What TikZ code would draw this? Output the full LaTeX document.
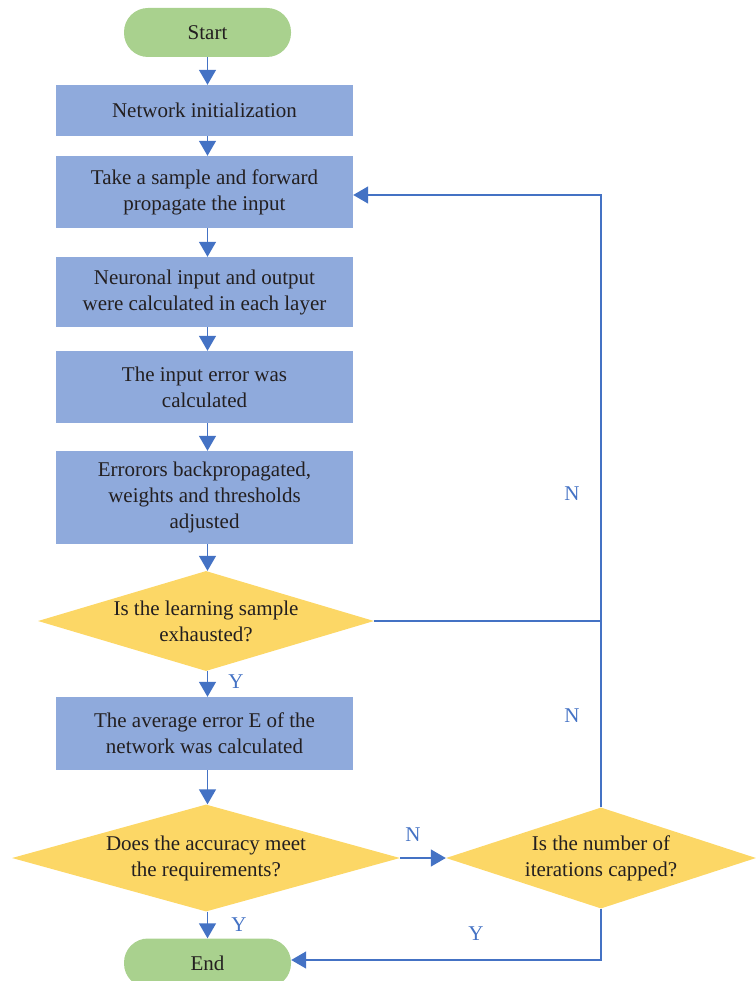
\documentclass[tikz,border=0pt]{standalone}
\usepackage{fontspec}
\setmainfont{Liberation Serif}
\usetikzlibrary{arrows.meta,shapes.geometric}
\definecolor{boxblue}{HTML}{8FAADC}
\definecolor{termgreen}{HTML}{A9D18E}
\definecolor{decyellow}{HTML}{FCD766}
\definecolor{flowline}{HTML}{4472C4}
\definecolor{txt}{HTML}{231F20}
\begin{document}
\begin{tikzpicture}[x=1pt,y=-1pt,
  every node/.style={font=\fontsize{21}{26}\selectfont, text=txt},
  process/.style={rectangle, fill=boxblue, minimum width=297pt, inner sep=0pt,
    align=center},
  terminal/.style={rectangle, rounded corners=24pt, fill=termgreen,
    minimum width=167pt, minimum height=49pt, inner sep=0pt},
  decision/.style={diamond, fill=decyellow, inner sep=0pt},
  decisiontext/.style={align=center, inner sep=0pt},
  flow/.style={draw=flowline, line width=1.4pt,
    -{Triangle[width=17pt,length=15pt]}},
  joint/.style={draw=flowline, line width=1.4pt},
  answer/.style={text=flowline, inner sep=0pt}
]
\useasboundingbox (0,0) rectangle (755,981);

% terminals and process boxes
\node[terminal] (start) at (207.5,32.5) {Start};
\node[process, minimum height=51pt] (init) at (204.5,110.5) {Network initialization};
\node[process, minimum height=72pt] (sample) at (204.5,192) {Take a sample and forward\\propagate the input};
\node[process, minimum height=70pt] (layers) at (204.5,292) {Neuronal input and output\\were calculated in each layer};
\node[process, minimum height=72pt] (inerr) at (204.5,387) {The input error was\\calculated};
\node[process, minimum height=93pt] (backprop) at (204.5,497.5) {Errorors backpropagated,\\weights and thresholds\\adjusted};

% first decision
\node[decision, minimum width=336pt, minimum height=100pt] (exhaust) at (206,621) {};
\node[decisiontext] (exhausttxt) at (exhaust.center) {Is the learning sample\\exhausted?};

\node[process, minimum height=73pt] (avgerr) at (204.5,733.5) {The average error E of the\\network was calculated};

% accuracy and iteration decisions
\node[decision, minimum width=388pt, minimum height=107pt] (accur) at (206,858) {};
\node[decisiontext] (accurtxt) at (accur.center) {Does the accuracy meet\\the requirements?};
\node[decision, minimum width=310pt, minimum height=101pt] (iter) at (601,858) {};
\node[decisiontext] (itertxt) at (iter.center) {Is the number of\\iterations capped?};

\node[terminal] (end) at (207.5,963) {End};

% main downward flow, all along the column of the terminals
\draw[flow] (start.south) -- (start.south |- init.north);
\draw[flow] (init.south -| start) -- (sample.north -| start);
\draw[flow] (sample.south -| start) -- (layers.north -| start);
\draw[flow] (layers.south -| start) -- (inerr.north -| start);
\draw[flow] (inerr.south -| start) -- (backprop.north -| start);
\draw[flow] (backprop.south -| start) -- (exhaust.north -| start);
\draw[flow] (exhaust.south -| start) -- (avgerr.north -| start);
\draw[flow] (avgerr.south -| start) -- (accur.north -| start);
\draw[flow] (accur.south -| start) -- (end.north);
\draw[flow] (accur.east) -- (iter.west);

% loop back and exit paths
\coordinate (merge) at (iter.north |- exhaust.east);
\draw[joint] (exhaust.east) -- (merge);
\draw[flow] (iter.north) |- ([yshift=-3pt]sample.east);
\draw[flow] (iter.south) |- ([yshift=3pt]end.east);

% branch labels
\node[answer] (yexh) at (236,682) {Y};
\node[answer] (yacc) at (239,925) {Y};
\node[answer] (nacc) at (413,835) {N};
\node[answer] (yiter) at (476,934) {Y};
\node[answer] (nexh) at (572,494) {N};
\node[answer] (niter) at (572,716) {N};
\end{tikzpicture}
\end{document}
